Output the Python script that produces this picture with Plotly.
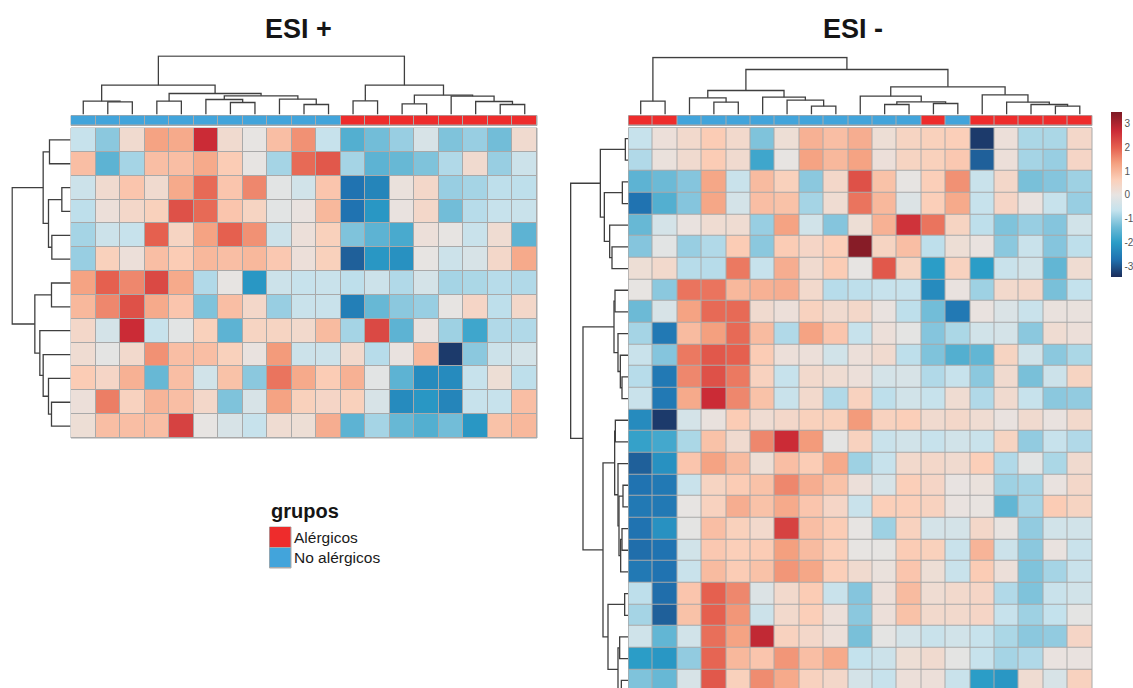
import plotly.graph_objects as go

W, H = 1133, 688

# ---------------- data ----------------
titles = ["ESI +", "ESI -"]
group_names = ["Alérgicos", "No alérgicos"]
legend_title = "grupos"
colorbar_ticks = [3, 2, 1, 0, -1, -2, -3]

groups_left = ["No alérgicos"] * 11 + ["Alérgicos"] * 8
groups_right = (["Alérgicos"] * 2 + ["No alérgicos"] * 10 + ["Alérgicos"]
                + ["No alérgicos"] + ["Alérgicos"] * 5)

left_values = [
    [-0.6, -1.1, 0.3, 1.3, 1.2, 2.7, 0.3, 0.0, 0.9, 1.5, -0.6, -1.6, -1.3, -1.0, -0.3, -1.2, -1.0, -1.3, 0.3],
    [0.9, -1.5, -0.9, 0.9, 0.9, 1.2, 0.7, 0.0, -0.9, 1.9, 2.1, -0.9, -1.5, -1.4, -1.2, -0.8, 0.3, -1.0, -0.5],
    [-0.5, 0.3, 0.8, 0.3, 1.2, 1.9, 0.8, 1.6, -0.1, -0.4, 0.8, -2.7, -2.4, 0.1, 0.4, -1.0, -0.9, -0.7, -0.7],
    [-0.7, 0.15, 0.4, 0.6, 2.2, 1.9, 0.8, 0.5, -0.1, 0.05, 1.0, -2.7, -2.1, 0.05, 0.4, -1.3, -0.75, -0.6, -0.55],
    [-0.9, -0.5, -0.6, 2.0, 0.5, 1.3, 2.0, 1.5, -0.5, 0.15, 0.6, -1.2, -1.5, -1.7, 0.15, 0.0, -0.55, 0.25, -1.5],
    [-1.0, 0.6, 0.15, 0.9, 0.7, 1.0, 0.9, 1.0, 0.75, 0.15, 0.6, -2.9, -2.1, -2.2, 0.0, -0.5, -0.3, 0.4, 1.2],
    [1.3, 2.0, 1.6, 2.3, 1.2, -0.8, 0.0, -2.1, -0.5, -0.6, -0.55, -0.7, -0.5, -0.8, -0.35, -0.9, -0.85, -0.75, -0.8],
    [1.0, 1.6, 2.2, 1.2, 0.8, -1.2, 0.9, 0.4, -1.0, -0.55, -0.55, -2.5, -1.4, -1.1, -1.0, 0.0, 0.45, -0.7, 0.4],
    [0.4, -0.35, 2.7, -0.6, -0.1, 0.6, -1.5, 0.5, 0.5, 0.35, 0.95, -0.9, 2.3, -1.5, 0.05, -0.95, -1.8, -0.8, -0.8],
    [0.25, -0.05, 0.35, 1.5, 0.9, 0.9, 0.6, 0.05, 1.4, -0.5, -0.5, 0.35, -0.75, 0.05, 1.0, -3.3, -1.1, -0.5, -0.35],
    [0.7, 0.45, 1.1, -1.4, 0.9, -0.4, 0.85, -1.1, 1.8, 1.2, 0.7, 1.1, -0.1, -1.5, -2.3, -2.3, -0.6, 0.2, -0.7],
    [0.15, 1.7, 0.55, 1.05, 0.9, 0.4, -1.2, -0.3, 1.3, 0.6, 0.45, 0.6, -0.3, -2.3, -2.1, -2.4, -0.6, -0.6, 0.9],
    [0.2, 0.9, 0.9, 0.9, 2.4, 0.0, -0.3, -0.6, 0.25, 0.2, 1.15, -1.5, -0.9, -1.4, -1.6, -1.3, -2.1, 0.85, 1.0],
]

right_values = [
    [-0.6, 0.15, 0.35, 0.7, 0.35, -1.2, 0.2, 1.1, 0.9, 1.15, 0.2, 0.5, 0.6, 0.65, -3.3, 0.15, -0.85, -0.85, 0.4],
    [-0.8, 0.1, 0.3, 0.7, 0.3, -1.8, 0.0, 1.3, 1.0, 1.3, 0.15, 0.5, 0.6, 0.75, -2.9, 0.15, -0.9, -1.0, 0.45],
    [-1.5, -1.35, -1.15, 1.25, -0.55, 0.95, 0.6, -1.1, 0.4, 2.2, 0.85, 0.0, 0.65, 1.5, -0.55, 0.4, -1.25, -1.15, -0.95],
    [-2.7, -1.6, -1.15, 1.25, -0.35, 0.9, 0.85, -0.9, 0.25, 1.8, 1.0, -0.2, 0.65, 1.2, -0.6, 0.45, 0.05, -0.6, -1.0],
    [-1.4, -0.35, 0.05, 0.25, 0.25, -1.0, 1.3, -0.4, -1.15, 0.2, 1.1, 2.6, 1.8, 0.5, -0.7, -1.2, -1.0, -1.15, -0.4],
    [-1.15, -0.1, -1.0, -0.8, 0.7, -1.1, 0.7, 0.45, 0.65, 3.4, 0.5, 0.9, -0.7, 0.2, 0.05, -1.1, -0.55, -1.15, -0.7],
    [0.2, 0.35, -0.75, -0.75, 1.75, -0.6, 1.15, 0.3, 0.7, 0.0, 2.1, 0.5, -2.0, 0.55, -2.0, -0.55, -0.4, -1.45, 0.25],
    [0.0, -1.1, 1.8, 1.8, 1.0, 1.1, 1.15, 0.35, -0.75, -0.7, -0.6, -0.6, -2.3, 0.05, -0.95, 0.35, 0.4, -1.25, -0.65],
    [-1.35, -0.3, 1.3, 1.9, 1.9, 0.3, 0.15, 0.55, 0.3, 0.4, 0.05, -0.7, -1.3, -2.6, 0.05, -0.25, -0.55, 0.08, 0.08],
    [-0.9, -2.6, 0.95, 1.35, 1.9, 0.95, -0.8, 1.3, 0.8, -0.6, 0.15, -0.05, -1.15, -0.85, -0.4, -0.35, -1.1, 0.25, 0.15],
    [-0.55, -1.15, 1.75, 2.1, 2.0, 0.7, 0.15, 0.15, -0.4, 0.15, 0.3, -0.7, -1.2, -1.6, -1.45, 0.5, -0.4, -1.1, -0.85],
    [-0.75, -2.6, 1.6, 2.2, 1.75, 0.55, -0.6, 0.35, 0.25, 0.15, -0.35, -0.3, -0.8, -0.6, -1.1, 0.3, -1.25, -0.5, 0.5],
    [-0.55, -2.6, 1.2, 2.7, 1.6, 0.85, -0.55, 0.35, -0.8, 0.55, -0.7, -0.4, -0.6, 0.25, -0.8, 0.3, -0.6, -1.1, -1.05],
    [-2.3, -3.3, -0.35, 0.08, 0.7, 0.25, 0.4, 0.6, 0.6, 1.4, 0.55, 0.65, 0.3, 0.4, 0.25, 0.05, 0.3, 0.05, 0.35],
    [-1.9, -1.75, -0.85, 0.85, 0.3, 1.6, 2.7, 1.4, -0.05, 0.55, -0.55, -0.4, -0.6, -0.4, -0.55, 0.5, -1.05, -0.6, -0.8],
    [-2.9, -2.2, 0.8, 1.3, 0.95, 0.2, 0.9, 0.7, 1.2, -0.95, -0.6, 0.35, 0.4, 0.3, 0.65, -0.8, -0.1, -0.85, 0.3],
    [-2.7, -2.6, -0.55, 0.5, 0.7, 0.85, 1.6, 1.15, 0.85, 0.15, -0.3, 0.65, 0.45, 0.02, 0.1, -0.95, -0.9, 0.05, 0.4],
    [-2.6, -2.6, 0.0, 0.55, 1.15, 0.85, 1.2, 0.8, 0.45, -0.55, 0.65, 0.65, 0.55, 0.05, 0.03, -1.45, -0.9, 0.7, 0.5],
    [-2.7, -2.2, -0.05, 0.9, 0.6, 0.35, 2.4, 0.9, 0.7, 0.0, -0.95, 0.55, -0.35, -0.35, 0.4, 0.03, -1.05, -0.4, -0.4],
    [-2.75, -2.7, -0.4, 0.75, 0.65, 0.7, 1.35, 0.95, 0.65, 0.0, -0.02, 0.7, 0.6, -0.55, 1.05, -0.5, -1.1, 0.05, -0.55],
    [-2.6, -2.7, -0.55, 0.95, 0.7, 0.85, 1.45, 1.25, 0.65, 0.3, 0.1, 0.8, 0.2, -0.55, 0.7, 0.15, -1.2, -0.9, -0.55],
    [-0.7, -2.75, 0.8, 2.0, 1.6, -0.2, 0.35, 0.7, -0.55, -1.15, 0.15, 0.95, 0.25, 0.35, 0.45, -0.8, -1.2, -0.55, -0.4],
    [-0.9, -2.9, 0.85, 2.0, 1.45, -0.5, 0.35, 0.65, 0.15, -1.1, 0.15, 0.85, 0.35, 0.35, 0.45, -0.6, -0.95, -0.65, -0.05],
    [-0.45, -1.45, -0.4, 1.85, 1.3, 2.8, 0.55, 0.4, 0.15, -1.25, -0.05, -0.35, -0.55, -0.4, -0.6, -0.85, -1.1, -1.05, 0.45],
    [-2.0, -2.1, -1.05, 1.95, 1.0, 0.8, 1.45, 0.9, 1.2, -0.65, -0.5, 0.2, 0.3, -0.05, -0.6, -0.9, -0.8, 0.05, 0.05],
    [-1.2, -1.4, -0.3, 2.1, 0.6, 1.55, 1.2, 0.55, 0.4, -0.35, -0.6, 0.15, 0.15, -0.55, -2.0, -2.1, 0.25, -0.3, 0.55],
]

# dendrograms: [left, right, merge height]; leaves are column/row indices
left_col_tree = [[0, [1, 2, 38], 40],
                 [[3, 4, 40], [[5, [6, 7, 36], 45], [8, [9, 10, 30], 46], 56], 63], 88]
left_col_tree = [left_col_tree,
                 [[11, 12, 41], [[13, 14, 32], [15, [16, [17, 18, 30], 39], 55], 58], 88], 175]
left_row_tree = [[[0, 1, 63], [[2, 3, 26], [4, 5, 56], 66], 82],
                 [[6, 7, 57], [8, [9, [10, [11, 12, 57], 66], 82], 92], 107], 175]
right_col_tree = [[0, 1, 40],
                  [[[2, [3, 4, 37], 50], [5, [6, [7, 8, 25], 43], 52], 72],
                   [[9, [[10, 11, 30], [12, 13, 33], 38], 55],
                    [14, [15, [16, [17, 18, 25], 30], 37], 59], 83], 135], 171]
right_row_tree = [[[0, 1, 8], [[2, 3, 17], [4, [5, 6, 48], 55], 71], 83],
                  [[[7, 8, 39], [9, [10, [11, 12, 18], 23], 30], 42],
                   [[[13, 14, 38], [15, [[16, 17, 15], [[18, 19, 18], 20, 22], 27], 30], 40],
                    [[21, 22, 10], [[23, 24, 25], [25, 26, 20], 30], 60], 75], 135], 172]

# ---------------- styles ----------------
FONT = "Liberation Sans, Arial, sans-serif"
GRID = "#a9a9a9"
DCOL = "#3f3f3f"
RED, BLUE = "#EE2C2C", "#42A4DB"
CMIN, CMAX = -3.45, 3.5
anchors = [(-3.45, "#1b2c5a"), (-2.7, "#2073b1"), (-2.0, "#2b9dc7"), (-1.35, "#6cbad6"),
           (-0.65, "#c4e2ed"), (0.0, "#e7e4e2"), (0.65, "#fbcfb9"), (1.35, "#f4a07f"),
           (2.0, "#e5604f"), (2.7, "#cb2b36"), (3.5, "#7d1a25")]
colorscale = [[(v - CMIN) / (CMAX - CMIN), c] for v, c in anchors]
PXU = 1 / 3.0  # pixels per dendrogram height unit


def fx(p):
    return p / W


def fy(p):
    return 1 - p / H


def dendro(tree):
    xs, hs = [], []

    def walk(node):
        if isinstance(node, int):
            return float(node), 0.0
        l, r, h = node
        pl, hl = walk(l)
        pr, hr = walk(r)
        xs.extend([pl, pl, pr, pr, None])
        hs.extend([hl, h, h, hr, None])
        return (pl + pr) / 2, h

    walk(tree)
    return xs, hs


fig = go.Figure()
layout = {}
shapes = []
annotations = []


def axes(n, xdom, ydom, xr, yr):
    sx = "" if n == 1 else str(n)
    layout["xaxis" + sx] = dict(domain=xdom, range=xr, visible=False, anchor="y" + sx,
                                showgrid=False, zeroline=False, fixedrange=True)
    layout["yaxis" + sx] = dict(domain=ydom, range=yr, visible=False, anchor="x" + sx,
                                showgrid=False, zeroline=False, fixedrange=True)
    return "x" + sx, "y" + sx


def grid_bg(xa, ya):
    shapes.append(dict(type="rect", xref=xa + " domain", yref=ya + " domain",
                       x0=0, x1=1, y0=0, y1=1, fillcolor=GRID,
                       line=dict(color=GRID, width=1), layer="below"))


def panel(n0, values, groups, col_tree, row_tree, x0px, x1px, top_px, row_px,
          bottom_px, dleft_px, title, title_x):
    nrow, ncol = len(values), len(values[0])
    yr = [-0.5 + (bottom_px - top_px) / row_px, -0.5]
    # heatmap
    xa, ya = axes(n0, [fx(x0px), fx(x1px)], [fy(bottom_px), fy(top_px)], [-0.5, ncol - 0.5], yr)
    grid_bg(xa, ya)
    fig.add_trace(go.Heatmap(z=values, x=list(range(ncol)), y=list(range(nrow)),
                             coloraxis="coloraxis", xgap=1, ygap=1, xaxis=xa, yaxis=ya,
                             hoverinfo="skip"))
    # annotation bar
    xa2, ya2 = axes(n0 + 1, [fx(x0px), fx(x1px)], [fy(125.5), fy(115.5)], [-0.5, ncol - 0.5], [0.5, -0.5])
    grid_bg(xa2, ya2)
    fig.add_trace(go.Heatmap(z=[[1 if g == group_names[0] else 0 for g in groups]],
                             x=list(range(ncol)), y=[0], zmin=0, zmax=1,
                             colorscale=[[0, BLUE], [1, RED]], showscale=False,
                             xgap=1, ygap=1, xaxis=xa2, yaxis=ya2, hoverinfo="skip"))
    # column dendrogram
    cx, ch = dendro(col_tree)
    top = max(h for h in ch if h is not None) + 3
    xa3, ya3 = axes(n0 + 2, [fx(x0px), fx(x1px)], [fy(114.5), fy(114.5 - top * PXU)],
                    [-0.5, ncol - 0.5], [0, top])
    fig.add_trace(go.Scatter(x=cx, y=ch, mode="lines", line=dict(color=DCOL, width=1.3),
                             xaxis=xa3, yaxis=ya3, hoverinfo="skip", showlegend=False))
    # row dendrogram
    rx, rh = dendro(row_tree)
    wmax = max(h for h in rh if h is not None) + 3
    xa4, ya4 = axes(n0 + 3, [fx(dleft_px - wmax * PXU), fx(dleft_px)],
                    [fy(bottom_px), fy(top_px)], [wmax, 0], yr)
    fig.add_trace(go.Scatter(x=rh, y=rx, mode="lines", line=dict(color=DCOL, width=1.3),
                             xaxis=xa4, yaxis=ya4, hoverinfo="skip", showlegend=False))
    annotations.append(dict(text="<b>%s</b>" % title, x=fx(title_x), y=fy(29), xref="paper",
                            yref="paper", showarrow=False, xanchor="center", yanchor="middle",
                            font=dict(family=FONT, size=27, color="#151515")))


panel(1, left_values, groups_left, left_col_tree, left_row_tree,
      71, 537, 128, 310 / 13, 438, 70.5, titles[0], 299)
panel(5, right_values, groups_right, right_col_tree, right_row_tree,
      628.5, 1092, 127.7, 21.67, H, 628, titles[1], 853)

# legend for groups
xl, yl = axes(9, [fx(269.5), fx(291)], [fy(568), fy(527)], [-0.5, 0.5], [1.5, -0.5])
grid_bg(xl, yl)
fig.add_trace(go.Heatmap(z=[[1 if g == group_names[0] else 0] for g in group_names],
                         x=[0], y=list(range(len(group_names))), zmin=0, zmax=1,
                         colorscale=[[0, BLUE], [1, RED]], showscale=False,
                         xgap=1, ygap=1, xaxis=xl, yaxis=yl, hoverinfo="skip"))
for i, g in enumerate(group_names):
    annotations.append(dict(text=g, x=0.5, y=i, xref=xl, yref=yl, xanchor="left",
                            yanchor="middle", xshift=1, showarrow=False,
                            font=dict(family=FONT, size=15.5, color="#1a1a1a")))
annotations.append(dict(text="<b>%s</b>" % legend_title, x=fx(269), y=fy(511), xref="paper",
                        yref="paper", xanchor="left", yanchor="middle", showarrow=False,
                        font=dict(family=FONT, size=20, color="#151515")))

fig.update_layout(
    width=W, height=H, margin=dict(l=0, r=0, t=0, b=0),
    paper_bgcolor="white", plot_bgcolor="white", showlegend=False,
    coloraxis=dict(cmin=CMIN, cmax=CMAX, colorscale=colorscale,
                   colorbar=dict(x=fx(1110.5), xanchor="left", y=fy(111.7), yanchor="top",
                                 len=165, lenmode="pixels", thickness=11, outlinewidth=0,
                                 xpad=0, ypad=0, ticks="", tickvals=colorbar_ticks,
                                 ticktext=[str(t) for t in colorbar_ticks],
                                 tickfont=dict(family=FONT, size=10, color="#555555"))),
    shapes=shapes, annotations=annotations, **layout)

fig.write_html("out.html")
